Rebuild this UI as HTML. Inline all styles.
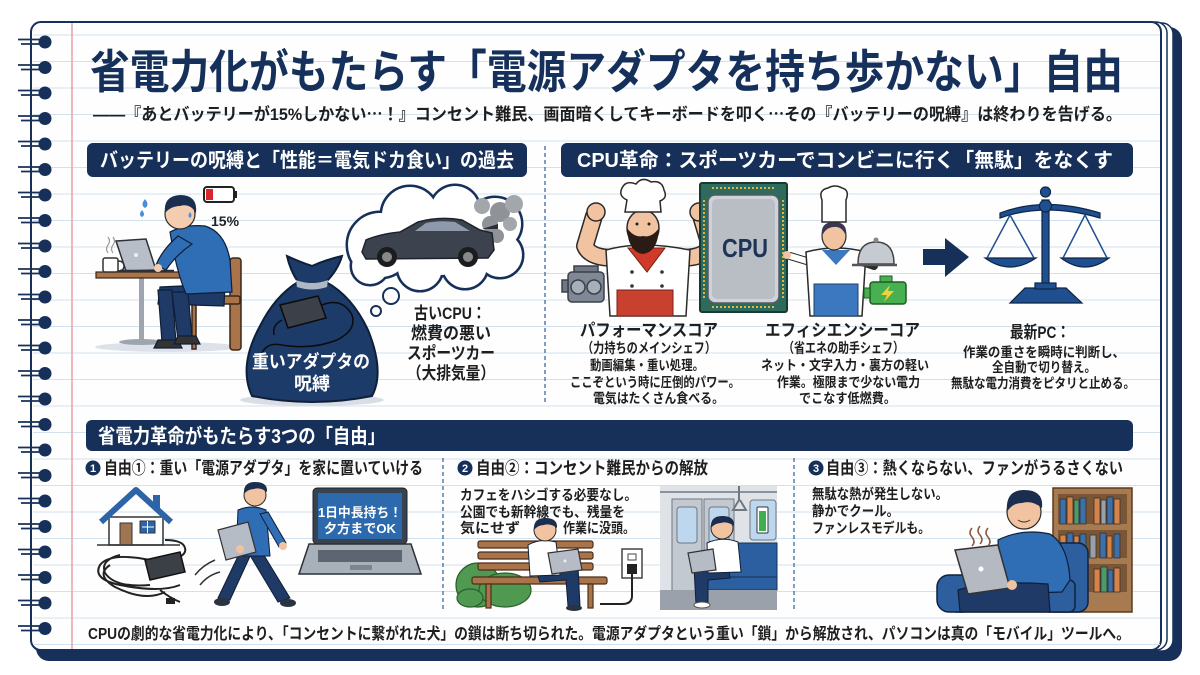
<!DOCTYPE html>
<html><head><meta charset="utf-8">
<style>
html,body{margin:0;padding:0;background:#fff;}
svg{display:block;}
text{font-family:"Liberation Sans","Noto Sans CJK JP",sans-serif;}
</style></head><body>
<svg width="1200" height="675" viewBox="0 0 1200 675" xmlns="http://www.w3.org/2000/svg">
<defs>
<g id="ring">
<path d="M18 -2.5 H42 M21 2 H42" stroke="#16305a" stroke-width="1.8" fill="none"/>
<circle cx="45" cy="0" r="6.5" fill="#16305a"/>
</g>
</defs>

<!-- notebook -->
<rect x="36" y="27" width="1146" height="634" rx="13" fill="#16305a"/>
<rect x="31" y="23" width="1142" height="628" rx="11" fill="#fff" stroke="#16305a" stroke-width="1.5"/>
<rect x="31" y="22" width="1136" height="628" rx="11" fill="#fff" stroke="#16305a" stroke-width="1.5"/>
<rect x="31" y="22" width="1130" height="628" rx="10" fill="#fefefe" stroke="#16305a" stroke-width="2"/>

<!-- ruled lines -->
<path d="M33 35H1160M33 61.5H1160M33 88H1160M33 114.5H1160M33 141H1160M33 167.5H1160M33 194H1160M33 220.5H1160M33 247H1160M33 273.5H1160M33 300H1160M33 326.5H1160M33 353H1160M33 379.5H1160M33 406H1160M33 432.5H1160M33 459H1160M33 485.5H1160M33 512H1160M33 538.5H1160M33 565H1160M33 591.5H1160M33 618H1160M33 644.5H1160" stroke="#d2e1ee" stroke-width="1"/>
<line x1="72" y1="23" x2="72" y2="649" stroke="#e4a2aa" stroke-width="1.5"/>

<!-- rings -->
<use href="#ring" y="42"/><use href="#ring" y="67.5"/><use href="#ring" y="93"/><use href="#ring" y="118.5"/>
<use href="#ring" y="144"/><use href="#ring" y="169.5"/><use href="#ring" y="195"/><use href="#ring" y="220.5"/>
<use href="#ring" y="246"/><use href="#ring" y="271.5"/><use href="#ring" y="297"/><use href="#ring" y="322.5"/>
<use href="#ring" y="348"/><use href="#ring" y="373.5"/><use href="#ring" y="399"/><use href="#ring" y="424.5"/>
<use href="#ring" y="450"/><use href="#ring" y="475.5"/><use href="#ring" y="501"/><use href="#ring" y="526.5"/>
<use href="#ring" y="552"/><use href="#ring" y="577.5"/><use href="#ring" y="603"/><use href="#ring" y="628.5"/>

<!-- title -->
<text x="90" y="88" font-size="46" font-weight="700" fill="#15305a" textLength="1033" lengthAdjust="spacingAndGlyphs">省電力化がもたらす「電源アダプタを持ち歩かない」自由</text>
<text x="93" y="120" font-size="17" font-weight="700" fill="#1e1e1e" textLength="1029" lengthAdjust="spacingAndGlyphs">――『あとバッテリーが15%しかない<tspan font-family="Noto Sans CJK JP, sans-serif">…</tspan>！』コンセント難民、画面暗くしてキーボードを叩く<tspan font-family="Noto Sans CJK JP, sans-serif">…</tspan>その『バッテリーの呪縛』は終わりを告げる。</text>

<!-- header pills -->
<rect x="87" y="143" width="440" height="34" rx="6" fill="#16305a"/>
<text x="100" y="167" font-size="20" font-weight="700" fill="#fff" textLength="414" lengthAdjust="spacingAndGlyphs">バッテリーの呪縛と「性能＝電気ドカ食い」の過去</text>
<rect x="561" y="143" width="572" height="34" rx="6" fill="#16305a"/>
<text x="577" y="167" font-size="20" font-weight="700" fill="#fff" textLength="536" lengthAdjust="spacingAndGlyphs">CPU革命：スポーツカーでコンビニに行く「無駄」をなくす</text>

<line x1="545" y1="146" x2="545" y2="405" stroke="#3a6ca8" stroke-width="1.3" stroke-dasharray="4 3"/>

<!-- ===== LEFT SCENE ===== -->
<ellipse cx="168" cy="347" rx="73" ry="5" fill="#dde2ea"/>
<g fill="#a9744a" stroke="#3a2616" stroke-width="1.5">
<rect x="230" y="258" width="11" height="92" rx="3"/>
<rect x="188" y="296" width="52" height="8" rx="2"/>
<rect x="192" y="304" width="4" height="45"/>
</g>
<rect x="139" y="278" width="5" height="64" fill="#9ea5ae"/>
<ellipse cx="141" cy="342" rx="22" ry="3" fill="#9ea5ae"/>
<rect x="96" y="272" width="92" height="6" fill="#a9744a" stroke="#3a2616" stroke-width="1.2"/>
<rect x="103" y="258" width="15" height="14" rx="2" fill="#fff" stroke="#333" stroke-width="1.5"/>
<path d="M118 261 q6 0 6 5 q0 5 -6 5" fill="none" stroke="#333" stroke-width="1.5"/>
<path d="M108 253 q-3 -4 0 -8 q3 -4 0 -8 M113 253 q-3 -4 0 -8 q3 -4 0 -8" fill="none" stroke="#999" stroke-width="1.2"/>
<polygon points="116,241 146,239 156,270 126,271" fill="#b8bec7" stroke="#2c3038" stroke-width="1.5"/>
<circle cx="136" cy="255" r="2" fill="#eee"/>
<path d="M120 271 H174" stroke="#2c3038" stroke-width="2.5"/>
<g stroke="#0f1f38" stroke-width="1.2">
<path d="M225 284 L160 287 L158 304 L224 306 Z" fill="#1f3a66"/>
<path d="M158 290 L172 290 L176 342 L162 342 Z" fill="#1f3a66"/>
<path d="M172 292 L188 292 L192 338 L178 340 Z" fill="#1f3a66"/>
<path d="M158 340 h20 l4 8 h-28 z" fill="#333"/>
<path d="M178 336 h18 l4 8 h-26 z" fill="#333"/>
<path d="M170 232 Q185 224 205 226 Q225 232 230 260 L232 292 L186 294 Q176 270 170 232 Z" fill="#2f6db5"/>
<path d="M178 236 Q162 250 156 265 L166 270 Q176 255 192 244 Z" fill="#2f6db5"/>
</g>
<circle cx="158" cy="268" r="4" fill="#f4cdb0"/>
<circle cx="180" cy="214" r="15" fill="#f4cdb0" stroke="#2a2a2a" stroke-width="1.2"/>
<path d="M165 213 Q163 196 180 195 Q198 195 196 213 Q190 203 180 206 Q171 206 165 213 Z" fill="#1b2e50"/>
<path d="M145 199 q-5 6 0 9 q5 -3 0 -9 z M142 210 q-4 5 0 7 q4 -2 0 -7 z M190 212 q-3 4 0 6 q3 -2 0 -6z" fill="#4a90d9"/>
<rect x="204" y="187" width="30" height="15" rx="3" fill="#fff" stroke="#222" stroke-width="2"/>
<rect x="206" y="189" width="7" height="11" fill="#d8262b"/>
<rect x="234" y="191" width="3" height="7" fill="#222"/>
<text x="211" y="226" font-size="14" font-weight="700" fill="#222">15%</text>

<!-- cloud -->
<g fill="#fff" stroke="#16305a" stroke-width="5">
<circle cx="380" cy="245" r="32"/><circle cx="410" cy="215" r="28"/><circle cx="455" cy="210" r="24"/>
<circle cx="495" cy="224" r="26"/><circle cx="500" cy="255" r="22"/><circle cx="465" cy="266" r="22"/>
<circle cx="420" cy="268" r="22"/><circle cx="440" cy="240" r="35"/><circle cx="370" cy="266" r="18"/>
</g>
<g fill="#fff">
<circle cx="380" cy="245" r="32"/><circle cx="410" cy="215" r="28"/><circle cx="455" cy="210" r="24"/>
<circle cx="495" cy="224" r="26"/><circle cx="500" cy="255" r="22"/><circle cx="465" cy="266" r="22"/>
<circle cx="420" cy="268" r="22"/><circle cx="440" cy="240" r="35"/><circle cx="370" cy="266" r="18"/>
</g>
<g fill="#8f9398">
<circle cx="490" cy="224" r="8"/><circle cx="500" cy="212" r="10"/><circle cx="514" cy="204" r="9" fill="#a3a7ab"/>
<circle cx="510" cy="224" r="7" fill="#a3a7ab"/><circle cx="497" cy="236" r="7"/><circle cx="482" cy="206" r="8" fill="#a3a7ab"/>
</g>
<path d="M362 252 L366 240 Q380 234 400 232 L418 222 Q440 216 462 220 L480 230 L492 233 L494 250 L488 258 L366 259 Z" fill="#3d434e" stroke="#1e222a" stroke-width="1.5"/>
<path d="M415 231 L426 223 Q440 220 455 222 L470 231 Z" fill="#8e9aab"/>
<path d="M482 229 L498 224 L498 229 Z" fill="#2a2e36"/>
<circle cx="387" cy="257" r="10" fill="#1a1c20"/><circle cx="387" cy="257" r="5" fill="#888"/>
<circle cx="468" cy="257" r="10" fill="#1a1c20"/><circle cx="468" cy="257" r="5" fill="#888"/>
<circle cx="391" cy="296" r="8" fill="#fff" stroke="#16305a" stroke-width="2"/>
<circle cx="376" cy="311" r="5" fill="#fff" stroke="#16305a" stroke-width="2"/>

<!-- bag -->
<ellipse cx="312" cy="400" rx="72" ry="6" fill="#d9dee6"/>
<path d="M287 256 Q300 262 312 266 Q325 260 342 256 Q338 270 326 282 Q352 296 368 330 Q385 372 372 396 Q312 408 252 396 Q238 366 260 326 Q275 296 298 282 Q290 270 287 256 Z" fill="#1d3b68" stroke="#0e1f3a" stroke-width="2"/>
<path d="M296 280 Q312 286 328 280 L327 287 Q312 292 297 287 Z" fill="#aeb7c4"/>
<polygon points="280,305 318,296 326,318 288,328" fill="#3b4049" stroke="#0b0b0b" stroke-width="1.5"/>
<path d="M322 305 q20 -8 30 10 q5 15 -15 25 q-25 10 -55 5 q-15 -3 -20 8 M282 320 q-10 5 -8 15" fill="none" stroke="#0b0b0b" stroke-width="1.5"/>
<text x="252" y="368" font-size="18" font-weight="700" fill="#fff" textLength="118" lengthAdjust="spacingAndGlyphs">重いアダプタの</text>
<text x="294" y="390" font-size="18" font-weight="700" fill="#fff" textLength="36" lengthAdjust="spacingAndGlyphs">呪縛</text>

<g font-size="17" font-weight="700" fill="#1e1e1e">
<text x="414" y="319" textLength="72" lengthAdjust="spacingAndGlyphs">古いCPU：</text>
<text x="411" y="339" textLength="80" lengthAdjust="spacingAndGlyphs">燃費の悪い</text>
<text x="407" y="359" textLength="88" lengthAdjust="spacingAndGlyphs">スポーツカー</text>
<text x="407" y="379" textLength="88" lengthAdjust="spacingAndGlyphs">（大排気量）</text>
</g>

<!-- ===== MIDDLE SCENE ===== -->
<g stroke="#3a404a" stroke-width="1.5">
<rect x="574" y="266" width="24" height="7" fill="#6f7884"/>
<rect x="568" y="272" width="36" height="30" rx="4" fill="#7f8894"/>
<rect x="562" y="280" width="6" height="12" fill="#6f7884"/>
<circle cx="578" cy="287" r="7" fill="#a7afb9"/><circle cx="594" cy="287" r="7" fill="#a7afb9"/>
</g>
<!-- muscular chef arms -->
<path d="M614 258 Q590 258 585 246 L594 216" fill="none" stroke="#2a2a2a" stroke-width="18" stroke-linecap="round" stroke-linejoin="round"/>
<path d="M681 258 Q705 258 710 246 L701 216" fill="none" stroke="#2a2a2a" stroke-width="18" stroke-linecap="round" stroke-linejoin="round"/>
<path d="M614 258 Q590 258 585 246 L594 216" fill="none" stroke="#f1c3a0" stroke-width="15" stroke-linecap="round" stroke-linejoin="round"/>
<path d="M681 258 Q705 258 710 246 L701 216" fill="none" stroke="#f1c3a0" stroke-width="15" stroke-linecap="round" stroke-linejoin="round"/>
<circle cx="596" cy="212" r="9" fill="#f1c3a0" stroke="#2a2a2a" stroke-width="1.5"/>
<circle cx="699" cy="212" r="9" fill="#f1c3a0" stroke="#2a2a2a" stroke-width="1.5"/>
<path d="M606 250 Q640 240 690 250 L686 316 L610 316 Z" fill="#fff" stroke="#2a2a2a" stroke-width="1.5"/>
<g fill="#333"><circle cx="632" cy="272" r="1.8"/><circle cx="632" cy="286" r="1.8"/><circle cx="662" cy="272" r="1.8"/><circle cx="662" cy="286" r="1.8"/></g>
<rect x="617" y="290" width="56" height="26" fill="#c8402e" stroke="#7a1f15"/>
<polygon points="628,248 665,248 647,272" fill="#cf3a2b" stroke="#7a1f15"/>
<ellipse cx="643" cy="228" rx="16" ry="18" fill="#f1c3a0" stroke="#2a2a2a" stroke-width="1.5"/>
<path d="M627 228 Q628 252 643 254 Q658 252 659 228 Q652 238 643 236 Q634 238 627 228 Z" fill="#2a1c14"/>
<circle cx="637" cy="224" r="1.5" fill="#222"/><circle cx="649" cy="224" r="1.5" fill="#222"/>
<path d="M625 212 L627 200 Q618 196 622 188 Q626 180 636 184 Q642 176 651 182 Q662 180 664 190 Q668 198 660 201 L661 212 Z" fill="#fff" stroke="#2a2a2a" stroke-width="1.5"/>
<!-- CPU chip -->
<rect x="700" y="183" width="87" height="129" rx="2" fill="#2e6b5d" stroke="#173a32" stroke-width="2"/>
<g stroke="#d9b64a" stroke-width="2" stroke-dasharray="2 2">
<line x1="712" y1="188" x2="776" y2="188"/><line x1="712" y1="307" x2="776" y2="307"/>
<line x1="704" y1="200" x2="704" y2="300"/><line x1="783" y1="200" x2="783" y2="300"/>
</g>
<rect x="708" y="195" width="71" height="108" rx="7" fill="#cfd3d8" stroke="#555b63" stroke-width="1.5"/>
<rect x="712" y="199" width="63" height="100" rx="5" fill="#b9bec5"/>
<text x="722" y="257" font-size="26" font-weight="700" fill="#1d3357" textLength="46" lengthAdjust="spacingAndGlyphs">CPU</text>
<!-- female chef -->
<path d="M810 262 L790 256" stroke="#2a2a2a" stroke-width="8" stroke-linecap="round"/>
<path d="M810 262 L790 256" stroke="#fff" stroke-width="6" stroke-linecap="round"/>
<circle cx="787" cy="255" r="4" fill="#f1c3a0"/>
<path d="M806 252 Q836 244 866 252 L862 316 L810 316 Z" fill="#fff" stroke="#2a2a2a" stroke-width="1.5"/>
<path d="M862 262 L874 266" stroke="#2a2a2a" stroke-width="8" stroke-linecap="round"/>
<rect x="814" y="284" width="44" height="32" fill="#3b78bf" stroke="#1d3f6a"/>
<polygon points="822,250 850,250 836,265" fill="#3b78bf"/>
<ellipse cx="834" cy="236" rx="12" ry="14" fill="#f1c3a0" stroke="#2a2a2a" stroke-width="1.2"/>
<path d="M822 236 Q820 222 834 222 Q848 222 846 236 Q842 226 834 227 Q826 227 822 236Z" fill="#3a3550"/>
<path d="M822 222 L822 200 Q818 190 828 188 Q835 184 842 188 Q850 190 846 200 L846 222 Z" fill="#fff" stroke="#2a2a2a" stroke-width="1.5"/>
<path d="M858 264 Q858 242 876 242 Q894 242 894 264 Z" fill="#c6cbd2" stroke="#444" stroke-width="1.5"/>
<circle cx="876" cy="240" r="2.5" fill="#888"/>
<path d="M852 265 H897" stroke="#555" stroke-width="2.5"/>
<rect x="880" y="276" width="12" height="6" fill="#47b050" stroke="#1f5a25"/>
<rect x="870" y="282" width="36" height="22" rx="3" fill="#47b050" stroke="#1f5a25" stroke-width="1.5"/>
<rect x="864" y="288" width="6" height="10" fill="#47b050" stroke="#1f5a25"/>
<polygon points="890,285 881,295 887,295 884,302 894,291 888,291" fill="#f2d23a"/>
<polygon points="923,249 945,249 945,238 969,257 945,277 945,265 923,265" fill="#16305a"/>
<g fill="#1f4f8f" stroke="#0d2647" stroke-width="1.2">
<rect x="1042" y="200" width="7" height="88"/>
<circle cx="1045.5" cy="192" r="5"/>
<path d="M1000 213 Q1045 196 1100 213 L1100 218 Q1045 202 1000 218 Z"/>
<circle cx="1045.5" cy="206" r="6"/>
<path d="M985 258 Q1010 276 1036 258 Z"/>
<path d="M1061 258 Q1085 276 1109 258 Z"/>
<path d="M1025 288 H1066 L1082 303 H1010 Z"/>
<rect x="1035" y="283" width="21" height="6"/>
</g>
<path d="M1010 215 L987 258 M1010 215 L1034 258 M1085 215 L1063 258 M1085 215 L1107 258" stroke="#1f4f8f" stroke-width="1.5" fill="none"/>

<g font-weight="700" fill="#1e1e1e">
<text x="580" y="336" font-size="17" textLength="138" lengthAdjust="spacingAndGlyphs">パフォーマンスコア</text>
<text x="582" y="353" font-size="14" textLength="134" lengthAdjust="spacingAndGlyphs">（力持ちのメインシェフ）</text>
<text x="590" y="370" font-size="13.5" textLength="114" lengthAdjust="spacingAndGlyphs">動画編集・重い処理。</text>
<text x="570" y="387" font-size="13.5" textLength="170" lengthAdjust="spacingAndGlyphs">ここぞという時に圧倒的パワー。</text>
<text x="593" y="403" font-size="13.5" textLength="131" lengthAdjust="spacingAndGlyphs">電気はたくさん食べる。</text>
<text x="765" y="336" font-size="17" textLength="155" lengthAdjust="spacingAndGlyphs">エフィシエンシーコア</text>
<text x="783" y="353" font-size="14" textLength="121" lengthAdjust="spacingAndGlyphs">（省エネの助手シェフ）</text>
<text x="761" y="370" font-size="13.5" textLength="168" lengthAdjust="spacingAndGlyphs">ネット・文字入力・裏方の軽い</text>
<text x="777" y="387" font-size="13.5" textLength="143" lengthAdjust="spacingAndGlyphs">作業。極限まで少ない電力</text>
<text x="799" y="403" font-size="13.5" textLength="97" lengthAdjust="spacingAndGlyphs">でこなす低燃費。</text>
<text x="1010" y="338" font-size="17" textLength="60" lengthAdjust="spacingAndGlyphs">最新PC：</text>
<text x="963" y="357" font-size="13.5" textLength="162" lengthAdjust="spacingAndGlyphs">作業の重さを瞬時に判断し、</text>
<text x="992" y="372" font-size="13.5" textLength="104" lengthAdjust="spacingAndGlyphs">全自動で切り替え。</text>
<text x="951" y="388" font-size="13.5" textLength="184" lengthAdjust="spacingAndGlyphs">無駄な電力消費をピタリと止める。</text>
</g>

<!-- ===== BOTTOM SECTION ===== -->
<rect x="86" y="420" width="1047" height="31" rx="6" fill="#16305a"/>
<text x="98" y="443" font-size="20" font-weight="700" fill="#fff" textLength="287" lengthAdjust="spacingAndGlyphs">省電力革命がもたらす3つの「自由」</text>

<line x1="443" y1="458" x2="443" y2="612" stroke="#3a6ca8" stroke-width="1.3" stroke-dasharray="4 3"/>
<line x1="794" y1="458" x2="794" y2="612" stroke="#3a6ca8" stroke-width="1.3" stroke-dasharray="4 3"/>

<g font-weight="700" fill="#1e1e1e">
<circle cx="93" cy="468" r="7.5" fill="#16305a"/><text x="93" y="472" font-size="11" fill="#fff" text-anchor="middle">1</text>
<text x="104" y="474" font-size="17" textLength="319" lengthAdjust="spacingAndGlyphs">自由①：重い「電源アダプタ」を家に置いていける</text>
<circle cx="465" cy="468" r="7.5" fill="#16305a"/><text x="465" y="472" font-size="11" fill="#fff" text-anchor="middle">2</text>
<text x="476" y="474" font-size="17" textLength="232" lengthAdjust="spacingAndGlyphs">自由②：コンセント難民からの解放</text>
<circle cx="816" cy="468" r="7.5" fill="#16305a"/><text x="816" y="472" font-size="11" fill="#fff" text-anchor="middle">3</text>
<text x="826" y="474" font-size="17" textLength="297" lengthAdjust="spacingAndGlyphs">自由③：熱くならない、ファンがうるさくない</text>
</g>

<!-- panel 1 -->
<rect x="153" y="495" width="7" height="15" fill="#2d64a8"/>
<rect x="109" y="517" width="54" height="28" fill="#fff" stroke="#333" stroke-width="1.5"/>
<rect x="120" y="523" width="12" height="22" fill="#a07650" stroke="#333"/>
<rect x="140" y="521" width="15" height="12" fill="#2d64a8" stroke="#333"/>
<path d="M142 527 H154 M147.5 521 V533" stroke="#fff" stroke-width="1"/>
<path d="M101 522 L136 490 L171 522" fill="none" stroke="#2d64a8" stroke-width="6" stroke-linejoin="round"/>
<path d="M97 545 H180" stroke="#333" stroke-width="1.5"/>
<path d="M165 540 q18 0 20 8 q3 10 -25 14 M150 560 q-40 -8 -50 5 q-8 14 20 20 q40 8 60 0 M110 565 q-15 10 5 22 q30 15 50 5 M120 555 q-20 5 -15 18 q10 15 45 12 M160 590 q10 8 20 12" fill="none" stroke="#222" stroke-width="2"/>
<polygon points="145,560 180,552 185,572 150,580" fill="#3b3f46" stroke="#111" stroke-width="1.5"/>
<rect x="166" y="598" width="9" height="6" fill="#222"/>
<path d="M195 575 q8 -10 20 -15 M200 585 q8 -10 20 -13" fill="none" stroke="#333" stroke-width="1.5"/>
<g stroke="#0f1f38" stroke-width="1">
<path d="M240 552 L252 552 L230 600 L218 598 Z" fill="#1f3a66"/>
<path d="M248 552 L262 552 L290 598 L278 602 Z" fill="#1f3a66"/>
<path d="M238 510 Q252 504 266 510 L270 556 L236 556 Z" fill="#2f6db5"/>
<path d="M260 514 L268 512 L286 543 L279 547 Z" fill="#2f6db5"/>
</g>
<ellipse cx="222" cy="602" rx="8" ry="4" fill="#2b3340"/>
<ellipse cx="288" cy="603" rx="8" ry="4" fill="#2b3340"/>
<circle cx="283" cy="546" r="4" fill="#f1c3a0"/>
<polygon points="218,530 248,522 256,552 226,560" fill="#b6bcc5" stroke="#333" stroke-width="1.2"/>
<circle cx="240" cy="549" r="4" fill="#f1c3a0"/>
<circle cx="255" cy="495" r="11" fill="#f1c3a0" stroke="#2a2a2a" stroke-width="1"/>
<path d="M244 494 Q243 482 255 482 Q268 482 267 492 Q260 487 254 489 Q248 489 244 494Z" fill="#1b2e50"/>
<rect x="313" y="488" width="94" height="56" rx="4" fill="#39424f" stroke="#1d232c"/>
<rect x="318" y="493" width="84" height="46" fill="#2d69ad"/>
<polygon points="309,544 411,544 421,574 299,574" fill="#a8b0ba" stroke="#2b3038" stroke-width="1.5"/>
<rect x="318" y="550" width="84" height="12" fill="#5d6670"/>
<rect x="350" y="565" width="22" height="5" fill="#7d8690"/>
<text x="318" y="517" font-size="13" font-weight="700" fill="#fff" textLength="84" lengthAdjust="spacingAndGlyphs">1日中長持ち！</text>
<text x="324" y="533" font-size="13" font-weight="700" fill="#fff" textLength="72" lengthAdjust="spacingAndGlyphs">夕方までOK</text>

<!-- panel 2 -->
<g font-size="14" font-weight="700" fill="#1e1e1e">
<text x="460" y="500" textLength="177" lengthAdjust="spacingAndGlyphs">カフェをハシゴする必要なし。</text>
<text x="460" y="517" textLength="165" lengthAdjust="spacingAndGlyphs">公園でも新幹線でも、残量を</text>
<text x="460" y="533" textLength="60" lengthAdjust="spacingAndGlyphs">気にせず</text>
<text x="563" y="533" textLength="72" lengthAdjust="spacingAndGlyphs">作業に没頭。</text>
</g>
<g fill="#4f9a50" stroke="#2a5e2c" stroke-width="1.2">
<ellipse cx="478" cy="585" rx="22" ry="22"/><ellipse cx="505" cy="590" rx="26" ry="17"/><ellipse cx="470" cy="598" rx="13" ry="9"/>
</g>
<g fill="#a9744a" stroke="#4a2f1a" stroke-width="1.2">
<rect x="478" y="541" width="115" height="7" rx="2"/>
<rect x="478" y="552" width="115" height="7" rx="2"/>
<rect x="478" y="563" width="115" height="7" rx="2"/>
<rect x="472" y="577" width="135" height="7" rx="2"/>
<rect x="486" y="584" width="5" height="24"/>
<rect x="588" y="584" width="5" height="24"/>
</g>
<g stroke="#0f1f38" stroke-width="1">
<path d="M535 568 L578 566 L580 606 L568 606 L566 580 L540 582 Z" fill="#1f3a66"/>
<path d="M528 545 Q540 538 556 542 L560 575 L530 576 Z" fill="#fff"/>
</g>
<polygon points="548,553 578,549 582,570 552,574" fill="#b6bcc5" stroke="#333" stroke-width="1.2"/>
<circle cx="565" cy="561" r="1.5" fill="#eee"/>
<circle cx="545" cy="530" r="11" fill="#f1c3a0" stroke="#2a2a2a"/>
<path d="M534 530 Q533 518 545 518 Q558 518 557 528 Q550 523 544 525 Q538 525 534 530Z" fill="#1b2e50"/>
<ellipse cx="574" cy="608" rx="8" ry="3" fill="#2b3340"/>
<rect x="622" y="549" width="20" height="29" fill="#fff" stroke="#444" stroke-width="1.5"/>
<rect x="628" y="554" width="8" height="6" fill="#fff" stroke="#444"/>
<rect x="627" y="564" width="10" height="10" fill="#222"/>
<path d="M632 574 V596 Q632 604 622 604 H600" fill="none" stroke="#222" stroke-width="2"/>
<rect x="660" y="486" width="117" height="124" fill="#dfe3e8"/>
<path d="M660 492 H777" stroke="#8a929c" stroke-width="2"/>
<rect x="672" y="499" width="30" height="92" fill="#c3c9d1" stroke="#6f7781"/>
<rect x="704" y="499" width="30" height="92" fill="#c3c9d1" stroke="#6f7781"/>
<rect x="677" y="507" width="20" height="36" rx="3" fill="#bcd7ee" stroke="#6f7781"/>
<rect x="709" y="507" width="20" height="36" rx="3" fill="#bcd7ee" stroke="#6f7781"/>
<path d="M739 486 V500 L733 510 H746 L740 500" fill="none" stroke="#6f7781" stroke-width="2"/>
<rect x="750" y="500" width="26" height="40" rx="3" fill="#bcd7ee" stroke="#6f7781"/>
<rect x="757" y="507" width="11" height="26" rx="1" fill="#fff" stroke="#333"/>
<rect x="759" y="511" width="7" height="20" fill="#3fae4f"/>
<rect x="713" y="543" width="64" height="36" fill="#2b5fa0" stroke="#16305a"/>
<rect x="708" y="577" width="69" height="13" fill="#2b5fa0" stroke="#16305a"/>
<rect x="660" y="590" width="117" height="20" fill="#9aa1aa"/>
<g stroke="#0f1f38" stroke-width="1">
<path d="M694 568 L728 566 L730 578 L708 580 L708 604 L696 604 Z" fill="#1f3a66"/>
<path d="M707 543 Q722 536 738 542 L741 572 L708 573 Z" fill="#fff"/>
</g>
<polygon points="688,553 713,549 716,570 692,573" fill="#b6bcc5" stroke="#333" stroke-width="1.2"/>
<circle cx="722" cy="528" r="11" fill="#f1c3a0" stroke="#2a2a2a"/>
<path d="M711 528 Q710 516 722 516 Q735 516 734 526 Q727 521 721 523 Q715 523 711 528Z" fill="#1b2e50"/>
<ellipse cx="702" cy="605" rx="8" ry="3" fill="#fff" stroke="#555"/>

<!-- panel 3 -->
<g font-size="14" font-weight="700" fill="#1e1e1e">
<text x="812" y="499" textLength="136" lengthAdjust="spacingAndGlyphs">無駄な熱が発生しない。</text>
<text x="812" y="516" textLength="87" lengthAdjust="spacingAndGlyphs">静かでクール。</text>
<text x="812" y="533" textLength="118" lengthAdjust="spacingAndGlyphs">ファンレスモデルも。</text>
</g>
<rect x="1053" y="488" width="79" height="124" fill="#a87a50" stroke="#5a3a20" stroke-width="1.5"/>
<rect x="1058" y="494" width="69" height="30" fill="#7a5636"/>
<rect x="1058" y="530" width="69" height="28" fill="#7a5636"/>
<rect x="1058" y="564" width="69" height="28" fill="#7a5636"/>
<g stroke="#333" stroke-width="0.8">
<rect x="1060" y="499" width="6" height="25" fill="#3d6fa8"/><rect x="1067" y="497" width="6" height="27" fill="#d6834a"/><rect x="1074" y="500" width="5" height="24" fill="#4c9a6a"/><rect x="1080" y="498" width="6" height="26" fill="#3d6fa8"/><rect x="1094" y="498" width="6" height="26" fill="#d6834a"/><rect x="1101" y="500" width="5" height="24" fill="#9aa0a8"/><rect x="1107" y="497" width="6" height="27" fill="#3d6fa8"/><rect x="1114" y="499" width="6" height="25" fill="#d6834a"/>
<rect x="1060" y="535" width="6" height="23" fill="#d6834a"/><rect x="1067" y="533" width="6" height="25" fill="#3d6fa8"/><rect x="1074" y="536" width="5" height="22" fill="#d6834a"/><rect x="1080" y="534" width="6" height="24" fill="#3d6fa8"/><rect x="1090" y="535" width="6" height="23" fill="#9aa0a8"/><rect x="1100" y="533" width="6" height="25" fill="#3d6fa8"/><rect x="1107" y="536" width="5" height="22" fill="#d6834a"/><rect x="1114" y="534" width="6" height="24" fill="#3d6fa8"/>
<rect x="1060" y="569" width="6" height="23" fill="#4c9a6a"/><rect x="1067" y="567" width="6" height="25" fill="#d6834a"/><rect x="1074" y="570" width="5" height="22" fill="#3d6fa8"/><rect x="1080" y="568" width="6" height="24" fill="#4c9a6a"/><rect x="1094" y="569" width="6" height="23" fill="#d6834a"/><rect x="1101" y="567" width="6" height="25" fill="#4c9a6a"/><rect x="1108" y="570" width="5" height="22" fill="#3d6fa8"/><rect x="1114" y="568" width="6" height="24" fill="#d6834a"/>
</g>
<g fill="#2d5f9f" stroke="#0f2240" stroke-width="1.5">
<rect x="1040" y="543" width="48" height="69" rx="10"/>
<rect x="950" y="580" width="125" height="32" rx="6"/>
<rect x="937" y="575" width="38" height="37" rx="12"/>
</g>
<g stroke="#0f1f38" stroke-width="1.2">
<path d="M998 540 Q1022 528 1050 534 Q1068 545 1070 580 L1062 592 L1000 594 Z" fill="#2f6db5"/>
<path d="M958 590 Q990 580 1048 584 L1050 612 L960 612 Z" fill="#1f3a66"/>
</g>
<circle cx="1024" cy="512" r="17" fill="#f1c3a0" stroke="#2a2a2a" stroke-width="1.2"/>
<path d="M1007 512 Q1005 490 1024 490 Q1044 490 1042 508 Q1032 500 1022 503 Q1012 503 1007 512Z" fill="#1b2e50"/>
<path d="M1018 520 q6 4 12 0" fill="none" stroke="#333" stroke-width="1"/>
<polygon points="955,550 998,545 1010,588 968,594" fill="#b5bac2" stroke="#333" stroke-width="1.5"/>
<circle cx="981" cy="569" r="2.5" fill="#fff"/>
<circle cx="1012" cy="585" r="5" fill="#f1c3a0"/>
<path d="M972 528 q-4 5 0 9 q4 5 0 9 M980 526 q-4 5 0 9 q4 5 0 9 M988 528 q-4 5 0 9 q4 5 0 9" fill="none" stroke="#8b5a3c" stroke-width="1.5"/>

<!-- footer -->
<text x="88" y="639" font-size="16" font-weight="700" fill="#1e1e1e" textLength="1042" lengthAdjust="spacingAndGlyphs">CPUの劇的な省電力化により、「コンセントに繋がれた犬」の鎖は断ち切られた。電源アダプタという重い「鎖」から解放され、パソコンは真の「モバイル」ツールへ。</text>
</svg>
</body></html>
